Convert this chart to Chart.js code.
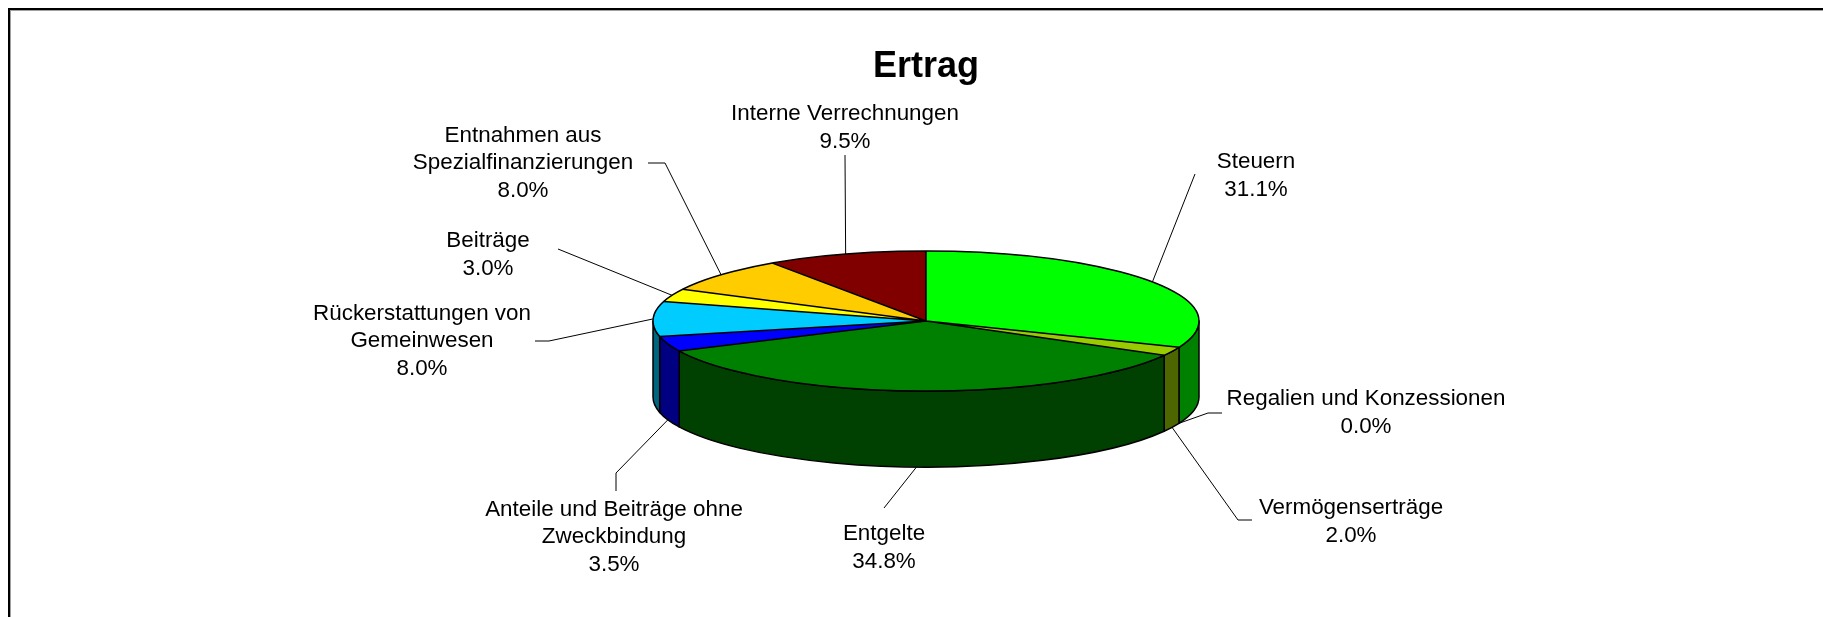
<!DOCTYPE html>
<html>
<head>
<meta charset="utf-8">
<script src="https://cdn.jsdelivr.net/npm/chart.js@4.4.0/dist/chart.umd.min.js"></script>
<style>
  html, body { margin: 0; padding: 0; background: #fff; }
  canvas { display: block; }
</style>
</head>
<body>
<canvas id="ertragChart" width="1823" height="617"></canvas>
<script>
const categories = ['Steuern', 'Regalien und Konzessionen', 'Vermögenserträge', 'Entgelte',
    'Anteile und Beiträge ohne Zweckbindung', 'Rückerstattungen von Gemeinwesen', 'Beiträge',
    'Entnahmen aus Spezialfinanzierungen', 'Interne Verrechnungen'];
const shares = [31.1, 0.0, 2.0, 34.8, 3.5, 8.0, 3.0, 8.0, 9.5];
// label text as it is wrapped in the chart
const labelLines = [['Steuern'], ['Regalien und Konzessionen'], ['Vermögenserträge'], ['Entgelte'],
    ['Anteile und Beiträge ohne', 'Zweckbindung'], ['Rückerstattungen von', 'Gemeinwesen'], ['Beiträge'],
    ['Entnahmen aus', 'Spezialfinanzierungen'], ['Interne Verrechnungen']];

const topColors = ['#00FF00', '#339966', '#99CC00', '#008000', '#0000FF', '#00CCFF', '#FFFF00', '#FFCC00', '#800000'];
const sideColors = ['#008000', '#1A4D33', '#4D6600', '#004000', '#000080', '#006680', '#808000', '#806600', '#400000'];

// label block centres and leader line elbows (canvas px), last point is taken from the slice
const labelPlaces = [
    { x: 1256, y: 176, lead: [[1195, 174]] },
    { x: 1366, y: 413, lead: [[1222, 413], [1208, 413]] },
    { x: 1351, y: 522, lead: [[1252, 520], [1238, 520]] },
    { x: 884, y: 548, lead: [[884, 508]] },
    { x: 614, y: 537, lead: [[616, 491], [616, 473]] },
    { x: 422, y: 341, lead: [[535, 341], [549, 341]] },
    { x: 488, y: 255, lead: [[558, 249]] },
    { x: 523, y: 163, lead: [[648, 163], [665, 163]] },
    { x: 845, y: 128, lead: [[845, 155]] }
];

const TILT = 70 / 273;   // vertical squash of the top face
const DEPTH = 76;        // thickness of the pie
const LINE_H = 27.5;
const FONT = '"Liberation Sans", Arial, sans-serif';

function pieGeom(chart) {
    const arcs = chart.getDatasetMeta(0).data;
    const a = arcs[0];
    return { cx: a.x, cy: a.y, rx: a.outerRadius, ry: a.outerRadius * TILT, arcs: arcs };
}

const pie3d = {
    id: 'pie3d',
    beforeDraw(chart) {
        // chart frame, only top and left edges fall inside the picture
        const ctx = chart.ctx;
        ctx.save();
        ctx.fillStyle = '#000';
        ctx.fillRect(8, 8, chart.width, 2);
        ctx.fillRect(8, 8, 2, chart.height);
        ctx.fillStyle = '#a0a0a0';
        ctx.fillRect(10, 10, chart.width, 1);
        ctx.fillRect(10, 10, 1, chart.height);
        ctx.restore();
    },
    beforeDatasetsDraw(chart) {
        const ctx = chart.ctx;
        const g = pieGeom(chart);
        // side walls of the front half
        ctx.save();
        ctx.lineWidth = 1.5;
        ctx.strokeStyle = '#000';
        ctx.lineJoin = 'round';
        g.arcs.forEach((arc, i) => {
            const a0 = Math.max(arc.startAngle, 0);
            const a1 = Math.min(arc.endAngle, Math.PI);
            if (a1 <= a0) return;
            ctx.beginPath();
            ctx.ellipse(g.cx, g.cy, g.rx, g.ry, 0, a0, a1);
            ctx.ellipse(g.cx, g.cy + DEPTH, g.rx, g.ry, 0, a1, a0, true);
            ctx.closePath();
            ctx.fillStyle = sideColors[i];
            ctx.fill();
            ctx.stroke();
        });
        ctx.restore();
        // squash the library's circle into the tilted top face
        ctx.save();
        ctx.translate(g.cx, g.cy);
        ctx.scale(1, TILT);
        ctx.translate(-g.cx, -g.cy);
    },
    afterDatasetsDraw(chart) {
        const ctx = chart.ctx;
        ctx.restore();
        const g = pieGeom(chart);

        // outlines of the top face
        ctx.save();
        ctx.lineWidth = 1.5;
        ctx.strokeStyle = '#000';
        ctx.lineJoin = 'round';
        ctx.beginPath();
        g.arcs.forEach(arc => {
            ctx.moveTo(g.cx, g.cy);
            ctx.lineTo(g.cx + g.rx * Math.cos(arc.startAngle), g.cy + g.ry * Math.sin(arc.startAngle));
        });
        ctx.stroke();
        ctx.beginPath();
        ctx.ellipse(g.cx, g.cy, g.rx, g.ry, 0, 0, 2 * Math.PI);
        ctx.stroke();
        ctx.restore();

        // data labels with leader lines
        ctx.save();
        ctx.font = '22.4px ' + FONT;
        ctx.fillStyle = '#000';
        ctx.textAlign = 'center';
        ctx.textBaseline = 'middle';
        ctx.strokeStyle = '#000';
        ctx.lineWidth = 1;
        g.arcs.forEach((arc, i) => {
            const place = labelPlaces[i];
            const mid = (arc.startAngle + arc.endAngle) / 2;
            const front = mid > 0 && mid < Math.PI;
            const ax = g.cx + g.rx * Math.cos(mid);
            const ay = g.cy + g.ry * Math.sin(mid) + (front ? DEPTH : 0);
            ctx.beginPath();
            ctx.moveTo(place.lead[0][0], place.lead[0][1]);
            place.lead.slice(1).forEach(p => ctx.lineTo(p[0], p[1]));
            ctx.lineTo(ax, ay);
            ctx.stroke();

            const lines = labelLines[i].concat([shares[i].toFixed(1) + '%']);
            lines.forEach((t, j) => {
                ctx.fillText(t, place.x, place.y + (j - (lines.length - 1) / 2) * LINE_H);
            });
        });
        ctx.restore();
    }
};

new Chart(document.getElementById('ertragChart'), {
    type: 'pie',
    data: {
        labels: categories,
        datasets: [{
            data: shares,
            backgroundColor: topColors,
            borderWidth: 0,
            radius: 273,
            clip: false
        }]
    },
    options: {
        responsive: false,
        animation: false,
        events: [],
        layout: { padding: { left: 100, right: 71, top: 0, bottom: 63.6 } },
        plugins: {
            legend: { display: false },
            tooltip: { enabled: false },
            title: {
                display: true,
                text: 'Ertrag',
                color: '#000',
                font: { family: FONT, size: 36, weight: 'bold', lineHeight: 1.2 },
                padding: { top: 45.4, bottom: 0 }
            }
        }
    },
    plugins: [pie3d]
});
</script>
</body>
</html>
